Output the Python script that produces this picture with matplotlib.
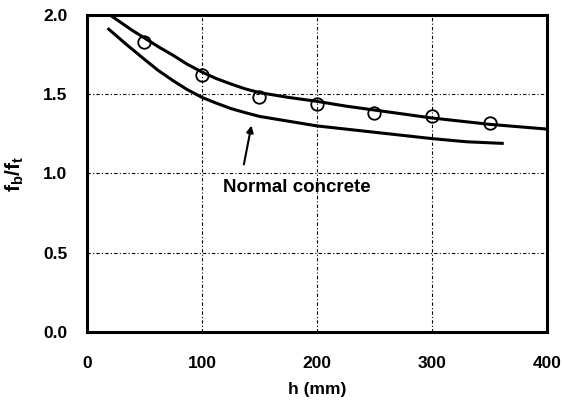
import matplotlib.pyplot as plt

plt.rcParams['font.family'] = ['Liberation Sans', 'DejaVu Sans']
plt.rcParams['mathtext.fontset'] = 'custom'
plt.rcParams['mathtext.rm'] = 'Liberation Sans'
plt.rcParams['mathtext.it'] = 'Liberation Sans'
plt.rcParams['mathtext.bf'] = 'Liberation Sans:bold'

# measured points (circles)
h_pts = [50, 100, 150, 200, 250, 300, 350]
ratio_pts = [1.83, 1.62, 1.48, 1.44, 1.38, 1.36, 1.32]

# upper curve (fitted)
h_upper = [22, 30, 40, 50, 62, 75, 87, 100, 112, 125, 137, 150, 175, 200, 225, 250, 275, 300, 325, 350, 375, 400]
ratio_upper = [1.99, 1.95, 1.90, 1.855, 1.80, 1.745, 1.69, 1.64, 1.60, 1.565, 1.535, 1.51, 1.48, 1.455,
               1.425, 1.40, 1.375, 1.35, 1.33, 1.31, 1.295, 1.28]

# lower curve (normal concrete)
h_normal = [19, 27, 35, 50, 62, 75, 87, 100, 112, 125, 137, 150, 175, 200, 225, 250, 275, 300, 330, 361]
ratio_normal = [1.91, 1.86, 1.81, 1.72, 1.65, 1.585, 1.53, 1.48, 1.445, 1.41, 1.385, 1.36, 1.33, 1.30,
                1.28, 1.26, 1.24, 1.22, 1.20, 1.19]

x_ticks = [0, 100, 200, 300, 400]
y_ticks = [0.0, 0.5, 1.0, 1.5, 2.0]

fig = plt.figure(figsize=(5.64, 4.03), dpi=100)
ax = fig.add_axes([0.154, 0.176, 0.816, 0.787])

for x in x_ticks[1:-1]:
    ax.axvline(x, color='black', lw=0.8, ls=(0, (3, 2, 1, 2)), zorder=1)
for y in y_ticks[1:-1]:
    ax.axhline(y, color='black', lw=0.8, ls=(0, (3, 2, 1, 2)), zorder=1)

ax.plot(h_upper, ratio_upper, color='black', lw=2.2, zorder=3, solid_joinstyle='round')
ax.plot(h_normal, ratio_normal, color='black', lw=2.2, zorder=3, solid_joinstyle='round')
ax.plot(h_pts, ratio_pts, 'o', ms=9, mfc='none', mec='black', mew=1.3, zorder=4)

ax.annotate('', xy=(143.5, 1.32), xytext=(136, 1.04),
            arrowprops=dict(arrowstyle='-|>', color='black', lw=1.5, mutation_scale=10))
ax.text(118, 0.91, 'Normal concrete', fontsize=13.5, fontweight='bold', va='center', ha='left')

ax.set_xlim(0, 400)
ax.set_ylim(0, 2.0)
ax.set_xticks(x_ticks)
ax.set_yticks(y_ticks)
ax.set_yticklabels([f'{v:.1f}' for v in y_ticks])
ax.tick_params(length=0, labelsize=12.5, pad=14)
for lbl in ax.get_xticklabels() + ax.get_yticklabels():
    lbl.set_fontweight('bold')
ax.tick_params(axis='x', pad=17)

for sp in ax.spines.values():
    sp.set_linewidth(2.2)

ax.set_xlabel('h (mm)', fontsize=12.5, fontweight='bold', labelpad=8)
ax.set_ylabel(r'$\mathbf{f_b/f_t}$', fontsize=15, labelpad=12)

fig.savefig('out.png', dpi=100)
